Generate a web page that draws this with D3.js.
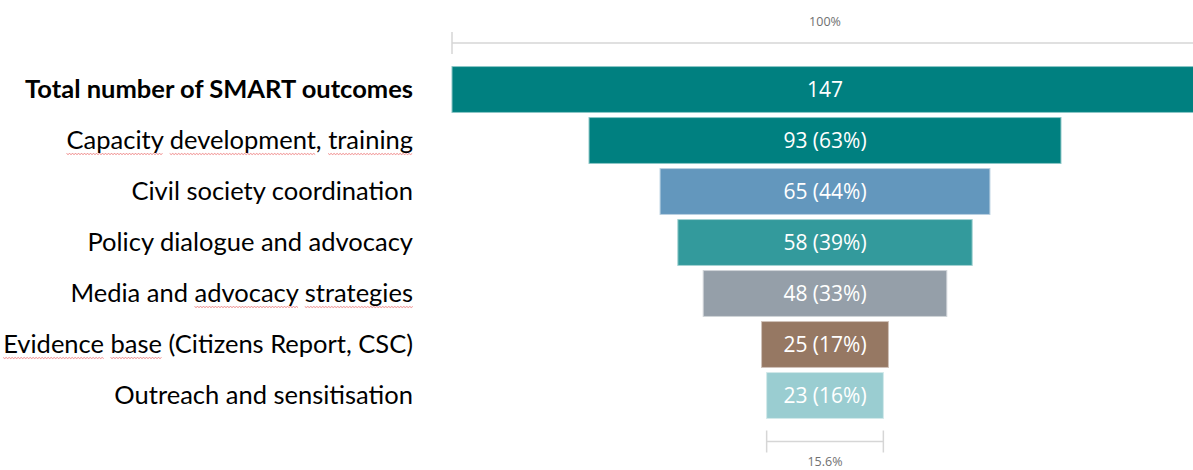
<!DOCTYPE html>
<html>
<head>
<meta charset="utf-8">
<script src="https://cdn.jsdelivr.net/npm/d3@7"></script>
<style>
  html, body { margin: 0; padding: 0; background: #ffffff; }
  svg { display: block; }
</style>
</head>
<body>
<svg id="chart" width="1193" height="470"></svg>
<script>
// ---- data ----
const categories = [
  "Total number of SMART outcomes",
  "Capacity development, training",
  "Civil society coordination",
  "Policy dialogue and advocacy",
  "Media and advocacy strategies",
  "Evidence base (Citizens Report, CSC)",
  "Outreach and sensitisation"
];
const values = [147, 93, 65, 58, 48, 25, 23];
const topScaleLabel = "100%";
const bottomScaleLabel = "15.6%";
// words flagged by the spell-checker squiggle in the original
const flaggedWords = [
  [],
  ["Capacity", "development,", "training"],
  [],
  [],
  ["advocacy", "strategies"],
  ["Evidence", "base"],
  []
];

// ---- styles ----
const palette = ["#008080", "#008080", "#6397BD", "#339A9C", "#959FA9", "#967863", "#9ACDD1"];
const W = 1193, H = 470;
const centerX = 825;
const maxWidth = 746;

const svg = d3.select("#chart");

const y = d3.scaleBand()
  .domain(categories)
  .range([64, 421])
  .paddingInner(0.1)
  .paddingOuter(0.05);

const w = d3.scaleLinear()
  .domain([0, d3.max(values)])
  .range([0, maxWidth]);

const data = categories.map((c, i) => ({ cat: c, value: values[i], i }));

// bars
svg.append("g").selectAll("rect")
  .data(data)
  .join("rect")
  .attr("x", d => centerX - w(d.value) / 2)
  .attr("y", d => y(d.cat))
  .attr("width", d => w(d.value))
  .attr("height", y.bandwidth())
  .attr("fill", d => palette[d.i])
  .attr("stroke", d => d3.interpolateRgb(palette[d.i], "#ffffff")(0.55))
  .attr("stroke-width", 1);

// value labels inside bars
const total = values[0];
svg.append("g").selectAll("text")
  .data(data)
  .join("text")
  .attr("x", centerX)
  .attr("y", d => y(d.cat) + y.bandwidth() / 2)
  .attr("dy", "0.36em")
  .attr("text-anchor", "middle")
  .attr("fill", "#ffffff")
  .style("font-family", "'Open Sans', 'Noto Sans', sans-serif")
  .style("font-size", "21px")
  .text(d => d.i === 0 ? `${d.value}` : `${d.value} (${Math.round(d.value / total * 100)}%)`);

// category labels
const labels = svg.append("g").selectAll("text")
  .data(data)
  .join("text")
  .attr("x", 413)
  .attr("y", d => y(d.cat) + y.bandwidth() / 2)
  .attr("dy", "0.35em")
  .attr("text-anchor", "end")
  .attr("fill", "#000000")
  .style("font-family", "Lato, 'Open Sans', sans-serif")
  .style("font-size", "25.5px")
  .style("font-weight", d => d.i === 0 ? "bold" : "normal")
  .text(d => d.cat);

// spell-check squiggles
labels.each(function(d) {
  const node = this;
  const txt = d.cat;
  const baseY = y(d.cat) + y.bandwidth() / 2 + 13;
  flaggedWords[d.i].forEach(word => {
    const core = word.replace(/[,]/g, "");
    const idx = txt.indexOf(core);
    if (idx < 0) return;
    const x0 = node.getStartPositionOfChar(idx).x;
    const x1 = node.getEndPositionOfChar(idx + core.length - 1).x;
    const pts = [];
    for (let x = x0, k = 0; x <= x1; x += 1.5, k++) pts.push([x, baseY + (k % 2 ? 1 : 0)]);
    svg.append("path")
      .attr("d", d3.line()(pts))
      .attr("fill", "none")
      .attr("stroke", "#e64a4a")
      .attr("stroke-width", 0.8)
      .attr("opacity", 0.8);
  });
});

// scale indicators
function scaleBar(value, lineY, labelY, label) {
  const x0 = centerX - w(value) / 2, x1 = centerX + w(value) / 2;
  const g = svg.append("g").attr("stroke", "#d6d6d6").attr("stroke-width", 1.5);
  g.append("line").attr("x1", x0).attr("x2", x1).attr("y1", lineY).attr("y2", lineY);
  g.append("line").attr("x1", x0).attr("x2", x0).attr("y1", lineY - 11).attr("y2", lineY + 11);
  g.append("line").attr("x1", x1).attr("x2", x1).attr("y1", lineY - 11).attr("y2", lineY + 11);
  svg.append("text")
    .attr("x", centerX)
    .attr("y", labelY)
    .attr("dy", "0.35em")
    .attr("text-anchor", "middle")
    .attr("fill", "#707070")
    .style("font-family", "'Open Sans', 'Noto Sans', sans-serif")
    .style("font-size", "12.5px")
    .text(label);
}
scaleBar(values[0], 43, 22, topScaleLabel);
scaleBar(values[values.length - 1], 441.5, 462, bottomScaleLabel);
</script>
</body>
</html>
